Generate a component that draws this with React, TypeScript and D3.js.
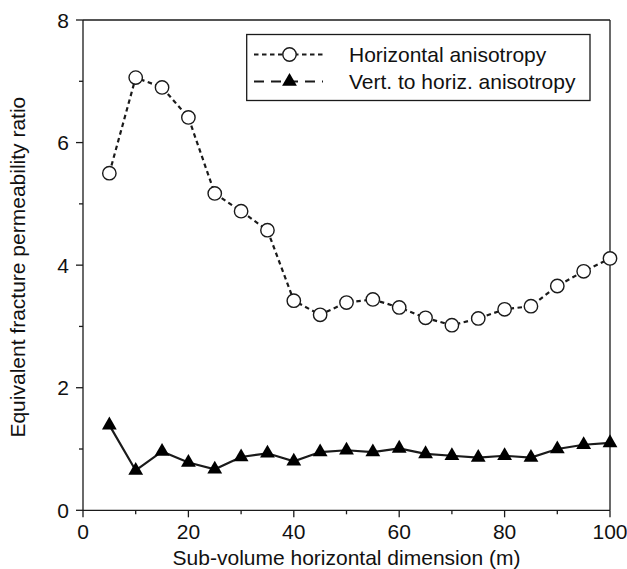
import React from "react";
import * as d3 from "d3";

const xValues = [5, 10, 15, 20, 25, 30, 35, 40, 45, 50, 55, 60, 65, 70, 75, 80, 85, 90, 95, 100];
const horizontalAniso = [5.50, 7.06, 6.90, 6.41, 5.17, 4.88, 4.57, 3.42, 3.19, 3.39, 3.44, 3.31, 3.14, 3.02, 3.13, 3.28, 3.33, 3.66, 3.90, 4.11];
const vertToHorizAniso = [1.39, 0.65, 0.96, 0.78, 0.67, 0.87, 0.93, 0.80, 0.95, 0.98, 0.95, 1.01, 0.92, 0.89, 0.86, 0.89, 0.86, 1.00, 1.07, 1.10];
const xMajorTicks = [0, 20, 40, 60, 80, 100];
const xMinorTicks = [10, 30, 50, 70, 90];
const yMajorTicks = [0, 2, 4, 6, 8];
const yMinorTicks = [1, 3, 5, 7];
const legendLabels = ["Horizontal anisotropy", "Vert. to horiz. anisotropy"];
const xTitle = "Sub-volume horizontal dimension (m)";
const yTitle = "Equivalent fracture permeability ratio";

const W = 627, H = 569;
const L = 83, R = 610, T = 20, B = 510.3;
const FONT = "'Liberation Sans', Arial, sans-serif";
const FS = 21;

export default function App() {
  const x = d3.scaleLinear().domain([0, 100]).range([L, R]);
  const y = d3.scaleLinear().domain([0, 8]).range([B, T]);
  const line = d3.line<number>().x((_, i) => x(xValues[i])).y((d) => y(d));
  const tri = d3.symbol().type(d3.symbolTriangle).size(95)();
  const circleR = 6.7;
  const lc = "#1a1a1a";
  const tc = "#111";

  return (
    <svg width={W} height={H} style={{ position: "absolute", left: 0, top: 0 }} fontFamily={FONT}>
      <rect x={0} y={0} width={W} height={H} fill="white" />
      {/* frame */}
      <line x1={L} y1={T} x2={R} y2={T} stroke={lc} strokeWidth={1.3} />
      <line x1={R} y1={T} x2={R} y2={B} stroke={lc} strokeWidth={1.3} />
      <line x1={L} y1={T} x2={L} y2={B} stroke={lc} strokeWidth={1.3} />
      <line x1={L} y1={B} x2={R} y2={B} stroke={lc} strokeWidth={1.3} />
      {/* y ticks */}
      {yMajorTicks.map((t) => (
        <g key={"ym" + t}>
          <line x1={L - 7} x2={L} y1={y(t)} y2={y(t)} stroke={lc} strokeWidth={1.3} />
          <text x={L - 14} y={y(t) + 7.5} textAnchor="end" fontSize={FS} fill={tc}>{t}</text>
        </g>
      ))}
      {yMinorTicks.map((t) => (
        <line key={"yn" + t} x1={L - 4} x2={L} y1={y(t)} y2={y(t)} stroke={lc} strokeWidth={1.3} />
      ))}
      {/* x ticks */}
      {xMajorTicks.map((t) => (
        <g key={"xm" + t}>
          <line x1={x(t)} x2={x(t)} y1={B} y2={B + 7} stroke={lc} strokeWidth={1.3} />
          <text x={x(t)} y={538.5} textAnchor="middle" fontSize={FS} fill={tc}>{t}</text>
        </g>
      ))}
      {xMinorTicks.map((t) => (
        <line key={"xn" + t} x1={x(t)} x2={x(t)} y1={B} y2={B + 4} stroke={lc} strokeWidth={1.3} />
      ))}
      {/* axis titles */}
      <text x={(L + R) / 2} y={565} textAnchor="middle" fontSize={FS} fill={tc}>{xTitle}</text>
      <text transform={`translate(25, ${(T + B) / 2 + 2}) rotate(-90)`} textAnchor="middle" fontSize={FS} fill={tc}>{yTitle}</text>
      {/* series */}
      <path d={line(horizontalAniso) || ""} fill="none" stroke={lc} strokeWidth={2.2} strokeDasharray="4.5,3.5" />
      <path d={line(vertToHorizAniso) || ""} fill="none" stroke={lc} strokeWidth={2.2} />
      {horizontalAniso.map((v, i) => (
        <circle key={"c" + i} cx={x(xValues[i])} cy={y(v)} r={circleR} fill="white" stroke={lc} strokeWidth={1.4} />
      ))}
      {vertToHorizAniso.map((v, i) => (
        <path key={"t" + i} d={tri || ""} transform={`translate(${x(xValues[i])},${y(v)})`} fill="#000" />
      ))}
      {/* legend */}
      <rect x={246.7} y={34.5} width={343.3} height={66} fill="white" stroke={lc} strokeWidth={1.3} />
      <line x1={254} x2={323} y1={54.5} y2={54.5} stroke={lc} strokeWidth={2.2} strokeDasharray="4.5,3.5" />
      <circle cx={289.5} cy={54.5} r={circleR} fill="white" stroke={lc} strokeWidth={1.4} />
      <line x1={254} x2={323} y1={81.5} y2={81.5} stroke={lc} strokeWidth={2.2} strokeDasharray="10,7" />
      <path d={tri || ""} transform={`translate(289.5,81.5)`} fill="#000" />
      <text x={349} y={61.8} fontSize={FS} fill={tc}>{legendLabels[0]}</text>
      <text x={349} y={88.5} fontSize={FS} fill={tc}>{legendLabels[1]}</text>
    </svg>
  );
}
